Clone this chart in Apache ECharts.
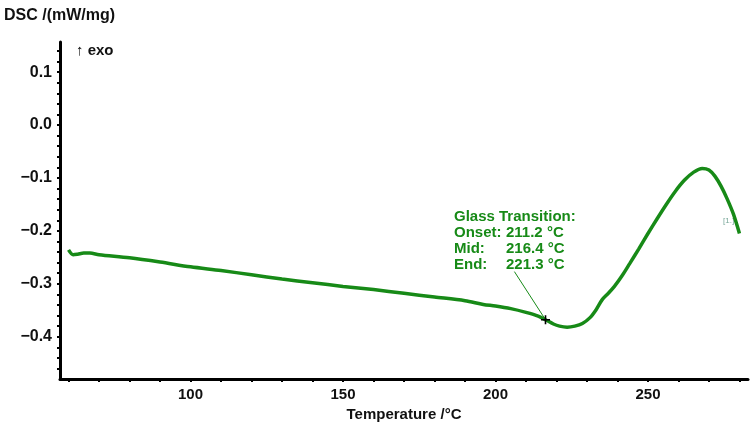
<!DOCTYPE html>
<html>
<head>
<meta charset="utf-8">
<script src="https://cdn.jsdelivr.net/npm/echarts@6/dist/echarts.min.js"></script>
<style>
  html, body { margin: 0; padding: 0; background: #fff; }
  #main { width: 755px; height: 427px; }
</style>
</head>
<body>
<div id="main"></div>
<script>
// DSC curve
var temps = [60, 61.5, 63, 65, 67, 70, 80, 90, 100, 110, 120, 130, 140, 150, 160, 170, 180, 190,
  196, 200, 205, 210, 214, 216.4, 219, 221, 223.5, 226, 228.5, 231, 233, 235, 237, 239, 241.5,
  244, 247, 250, 253, 256, 259, 262, 265, 267.8, 270, 272, 274, 276, 278, 280];
var dsc = [-0.236, -0.245, -0.244, -0.242, -0.242, -0.245, -0.251, -0.259, -0.268, -0.275, -0.283,
  -0.291, -0.298, -0.305, -0.311, -0.318, -0.325, -0.332, -0.339, -0.342, -0.347, -0.354, -0.361,
  -0.368, -0.376, -0.380, -0.382, -0.380, -0.375, -0.364, -0.349, -0.330, -0.318, -0.305, -0.285,
  -0.262, -0.234, -0.205, -0.177, -0.150, -0.125, -0.104, -0.089, -0.082, -0.085, -0.097, -0.116,
  -0.140, -0.168, -0.205];

var xTickLabels = [100, 150, 200, 250];
var yTickLabels = [0.1, 0.0, -0.1, -0.2, -0.3, -0.4];

// glass transition
var gtOnset = 211.2, gtMid = 216.4, gtEnd = 221.3;
var gtMidDsc = -0.368;
var gtLeaderFrom = [206.2, -0.277];

var green = '#178a17';
var font = '"Liberation Sans", Arial, sans-serif';

var chart = echarts.init(document.getElementById('main'));

var points = temps.map(function (t, i) { return [t, dsc[i]]; });

function hasLabel(list, v) {
  for (var i = 0; i < list.length; i++) {
    if (Math.abs(list[i] - v) < 1e-6) return true;
  }
  return false;
}

var option = {
  animation: false,
  grid: { left: 60, right: 7, top: 42, bottom: 44 },
  xAxis: {
    type: 'value',
    min: 57.2,
    max: 282.8,
    splitNumber: 22,
    minInterval: 10,
    maxInterval: 10,
    name: 'Temperature /°C',
    nameLocation: 'middle',
    nameGap: 28,
    nameTextStyle: { color: '#111', fontSize: 15, fontWeight: 'bold', fontFamily: font },
    axisLine: { onZero: false, lineStyle: { color: '#000', width: 3 } },
    axisTick: { length: 3, lineStyle: { color: '#000', width: 2 } },
    splitLine: { show: false },
    axisLabel: {
      color: '#111', fontSize: 15, fontWeight: 'bold', fontFamily: font, margin: 8,
      showMinLabel: false, showMaxLabel: false,
      formatter: function (v) { return hasLabel(xTickLabels, v) ? String(v) : ''; }
    }
  },
  yAxis: {
    type: 'value',
    min: -0.48,
    max: 0.157,
    splitNumber: 32,
    minInterval: 0.02,
    maxInterval: 0.02,
    axisLine: { onZero: false, lineStyle: { color: '#000', width: 3 } },
    axisTick: { length: 3, lineStyle: { color: '#000', width: 2 } },
    splitLine: { show: false },
    axisLabel: {
      color: '#111', fontSize: 16, fontWeight: 'bold', fontFamily: font, margin: 8,
      showMinLabel: false, showMaxLabel: false,
      formatter: function (v) {
        if (!hasLabel(yTickLabels, v)) return '';
        return v.toFixed(1).replace('-', '\u2212');
      }
    }
  },
  series: [{
    type: 'line',
    data: points,
    smooth: 0.3,
    showSymbol: false,
    lineStyle: { color: green, width: 3.5 },
    markPoint: {
      symbol: 'path://M0,-5L0,5M-5,0L5,0',
      symbolSize: 9,
      itemStyle: { color: 'none', borderColor: '#000', borderWidth: 1.6 },
      label: { show: false },
      data: [{ coord: [gtMid, gtMidDsc] }]
    },
    markLine: {
      symbol: 'none',
      silent: true,
      label: { show: false },
      lineStyle: { color: green, width: 1, type: 'solid' },
      data: [[{ coord: gtLeaderFrom }, { coord: [gtMid, gtMidDsc] }]]
    }
  }],
  graphic: [
    { type: 'text', left: 4, top: 8, style: { text: 'DSC /(mW/mg)', fill: '#111', font: 'bold 16px ' + font } },
    { type: 'text', left: 76, top: 43, style: { text: '\u2191 exo', fill: '#111', font: 'bold 15px ' + font } },
    { type: 'text', left: 454, top: 209, style: { text: 'Glass Transition:', fill: green, font: 'bold 15px ' + font } },
    { type: 'text', left: 454, top: 225, style: { text: 'Onset:', fill: green, font: 'bold 15px ' + font } },
    { type: 'text', left: 454, top: 241, style: { text: 'Mid:', fill: green, font: 'bold 15px ' + font } },
    { type: 'text', left: 454, top: 257, style: { text: 'End:', fill: green, font: 'bold 15px ' + font } },
    { type: 'text', left: 506, top: 225, style: { text: gtOnset.toFixed(1) + ' °C', fill: green, font: 'bold 15px ' + font } },
    { type: 'text', left: 506, top: 241, style: { text: gtMid.toFixed(1) + ' °C', fill: green, font: 'bold 15px ' + font } },
    { type: 'text', left: 506, top: 257, style: { text: gtEnd.toFixed(1) + ' °C', fill: green, font: 'bold 15px ' + font } },
    { type: 'text', left: 723, top: 217, style: { text: '[1.]', fill: '#7aa89a', font: '8px ' + font } }
  ]
};

chart.setOption(option);
</script>
</body>
</html>
